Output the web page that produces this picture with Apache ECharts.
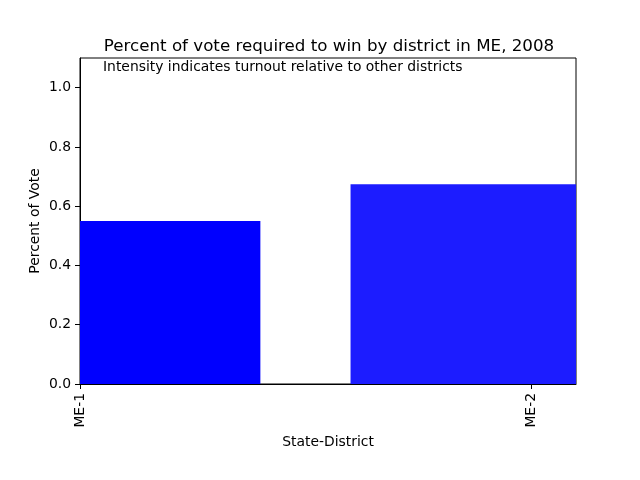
<!DOCTYPE html>
<html>
<head>
<meta charset="utf-8">
<script src="https://cdn.jsdelivr.net/npm/echarts@6/dist/echarts.min.js"></script>
<style>
  html, body { margin: 0; padding: 0; background: #fff; }
  #chart { width: 640px; height: 480px; }
</style>
</head>
<body>
<div id="chart"></div>
<script>
// data
var districts = ['ME-1', 'ME-2'];
var voteShare = [0.550, 0.674];
var barColors = ['#0000ff', '#1c1cff'];

var font = 'DejaVu Sans';
var chart = echarts.init(document.getElementById('chart'));

var option = {
    backgroundColor: '#fff',
    animation: false,
    title: {
        text: 'Percent of vote required to win by district in ME, 2008',
        left: 324,
        textAlign: 'center',
        top: 33,
        textStyle: { fontFamily: font, fontSize: 16.7, fontWeight: 'normal', color: '#000' }
    },
    grid: {
        left: 80, right: 64, top: 58, bottom: 96,
        show: true, borderColor: '#000', borderWidth: 1, backgroundColor: 'transparent'
    },
    graphic: [{
        type: 'text',
        left: 103,
        top: 60,
        style: { text: 'Intensity indicates turnout relative to other districts',
                 font: '13.9px "DejaVu Sans"', fill: '#000' }
    }],
    xAxis: {
        type: 'value',
        min: 0, max: 1.1, interval: 1,
        name: 'State-District',
        nameLocation: 'middle',
        nameGap: 50,
        nameTextStyle: { fontFamily: font, fontSize: 13.9, color: '#000' },
        axisLine: { show: true, lineStyle: { color: '#000' } },
        axisTick: { show: true, length: 5, lineStyle: { color: '#000' } },
        splitLine: { show: false },
        axisLabel: {
            rotate: 90, margin: 9, fontFamily: font, fontSize: 13.9, color: '#000',
            showMaxLabel: false,
            formatter: function (v) { return districts[Math.round(v)] || ''; }
        }
    },
    yAxis: {
        type: 'value',
        min: 0, max: 1.1, interval: 0.2,
        name: 'Percent of Vote',
        nameLocation: 'middle',
        nameGap: 38,
        nameMoveOverlap: false,
        nameTextStyle: { fontFamily: font, fontSize: 13.9, color: '#000' },
        axisLine: { show: true, lineStyle: { color: '#000' } },
        axisTick: { show: true, length: 5, lineStyle: { color: '#000' } },
        splitLine: { show: false },
        axisLabel: {
            margin: 9, fontFamily: font, fontSize: 13.9, color: '#000',
            showMaxLabel: false,
            formatter: function (v) { return v > 1.05 ? '' : v.toFixed(1); }
        }
    },
    series: [{
        type: 'custom',
        data: districts.map(function (d, i) { return [i, voteShare[i]]; }),
        renderItem: function (params, api) {
            var x = api.value(0), y = api.value(1);
            var p0 = api.coord([x - 0.4, y]);
            var p1 = api.coord([x + 0.4, 0]);
            var rect = echarts.graphic.clipRectByRect(
                { x: p0[0], y: p0[1], width: p1[0] - p0[0], height: p1[1] - p0[1] },
                { x: params.coordSys.x, y: params.coordSys.y,
                  width: params.coordSys.width, height: params.coordSys.height });
            if (!rect) return;
            return { type: 'rect', shape: rect, style: { fill: barColors[params.dataIndex] } };
        }
    }]
};

chart.setOption(option);
</script>
</body>
</html>
